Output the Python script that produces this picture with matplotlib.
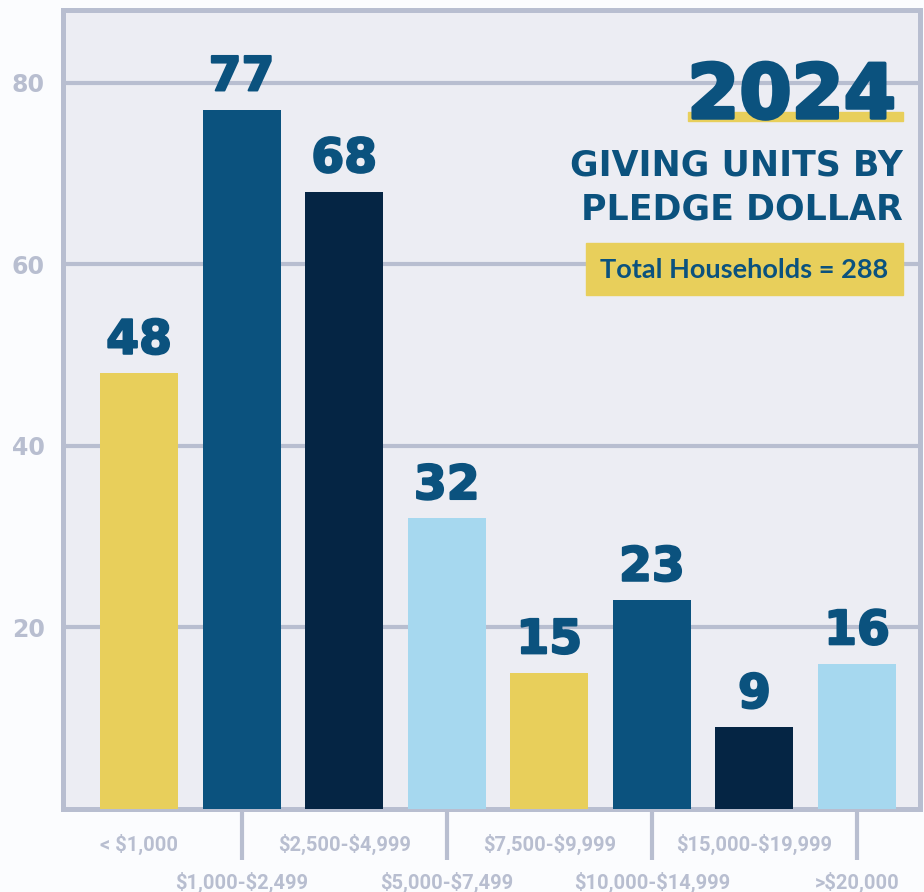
import numpy as np
import matplotlib.pyplot as plt
from matplotlib.patches import Rectangle
import matplotlib.patheffects as pe

plt.rcParams['text.parse_math'] = False

categories = ["< $1,000", "$1,000-$2,499", "$2,500-$4,999", "$5,000-$7,499",
              "$7,500-$9,999", "$10,000-$14,999", "$15,000-$19,999", ">$20,000"]
households = [48, 77, 68, 32, 15, 23, 9, 16]
bar_colors = ["#E8CF5B", "#0B527E", "#052544", "#A6D8EF",
              "#E8CF5B", "#0B527E", "#052544", "#A6D8EF"]
y_ticks = [20, 40, 60, 80]

blue = "#0B527E"
grey = "#B8BED0"
yellow = "#E8CF5B"
W, H = 924, 892
heavy = [pe.withStroke(linewidth=1.5, foreground=blue)]

fig = plt.figure(figsize=(W / 100, H / 100), dpi=100, facecolor="#FBFCFE")
ax = fig.add_axes([63 / W, 1 - 809 / H, (920 - 63) / W, (809 - 10) / H])
ax.set_facecolor("#ECEDF3")

x = np.arange(len(categories))
ax.bar(x, households, width=0.76, color=bar_colors, zorder=3)

for xi, v in zip(x, households):
    ax.annotate(str(v), (xi, v), xytext=(0, 14), textcoords="offset points",
                ha="center", va="baseline", fontsize=34, fontweight="bold",
                family="DejaVu Sans", color=blue, zorder=4, path_effects=heavy)

ax.set_xlim(-0.741, 7.614)
ax.set_ylim(0, 88.0)
ax.set_yticks(y_ticks)
ax.yaxis.grid(True, color=grey, linewidth=3, zorder=1)
ax.set_axisbelow(True)
ax.tick_params(axis="y", length=0, pad=13, labelsize=17, labelcolor=grey)
for lab in ax.get_yticklabels():
    lab.set_fontweight("bold")
    lab.set_family("DejaVu Sans")

for s in ax.spines.values():
    s.set_color(grey)
    s.set_linewidth(3.6)

# long ticks under every other bar, labels staggered in two rows
ax.set_xticks(x[1::2])
ax.set_xticklabels(categories[1::2])
ax.set_xticks(x[0::2], minor=True)
ax.set_xticklabels(categories[0::2], minor=True)
ax.tick_params(axis="x", which="major", length=37, width=3, color=grey,
               pad=8, labelsize=14.5, labelcolor=grey)
ax.tick_params(axis="x", which="minor", length=0, pad=18,
               labelsize=14.5, labelcolor=grey)
for lab in ax.get_xticklabels() + ax.get_xticklabels(minor=True):
    lab.set_fontweight("bold")
    lab.set_family("Roboto")

# title block
fig.patches.append(Rectangle((688 / W, 1 - 121 / H), (903 - 688) / W, 9 / H,
                             transform=fig.transFigure, color=yellow, zorder=2))
fig.text(896 / W, 1 - 118 / H, "2024", ha="right", va="baseline",
         fontsize=54, fontweight="bold", family="DejaVu Sans", color=blue,
         zorder=3, path_effects=[pe.withStroke(linewidth=2.5, foreground=blue)])
fig.text(903 / W, 1 - 175 / H, "GIVING UNITS BY", ha="right", va="baseline",
         fontsize=25, fontweight="bold", family="DejaVu Sans", color=blue)
fig.text(903 / W, 1 - 220 / H, "PLEDGE DOLLAR", ha="right", va="baseline",
         fontsize=25, fontweight="bold", family="DejaVu Sans", color=blue)
fig.patches.append(Rectangle((586 / W, 1 - 295 / H), (903 - 586) / W, 52 / H,
                             transform=fig.transFigure, color=yellow, zorder=2))
fig.text(744 / W, 1 - 270 / H, "Total Households = 288", ha="center", va="center",
         fontsize=19.5, fontweight="bold", family="Lato", color=blue, zorder=3)

fig.savefig("out.png", dpi=100, facecolor=fig.get_facecolor())
